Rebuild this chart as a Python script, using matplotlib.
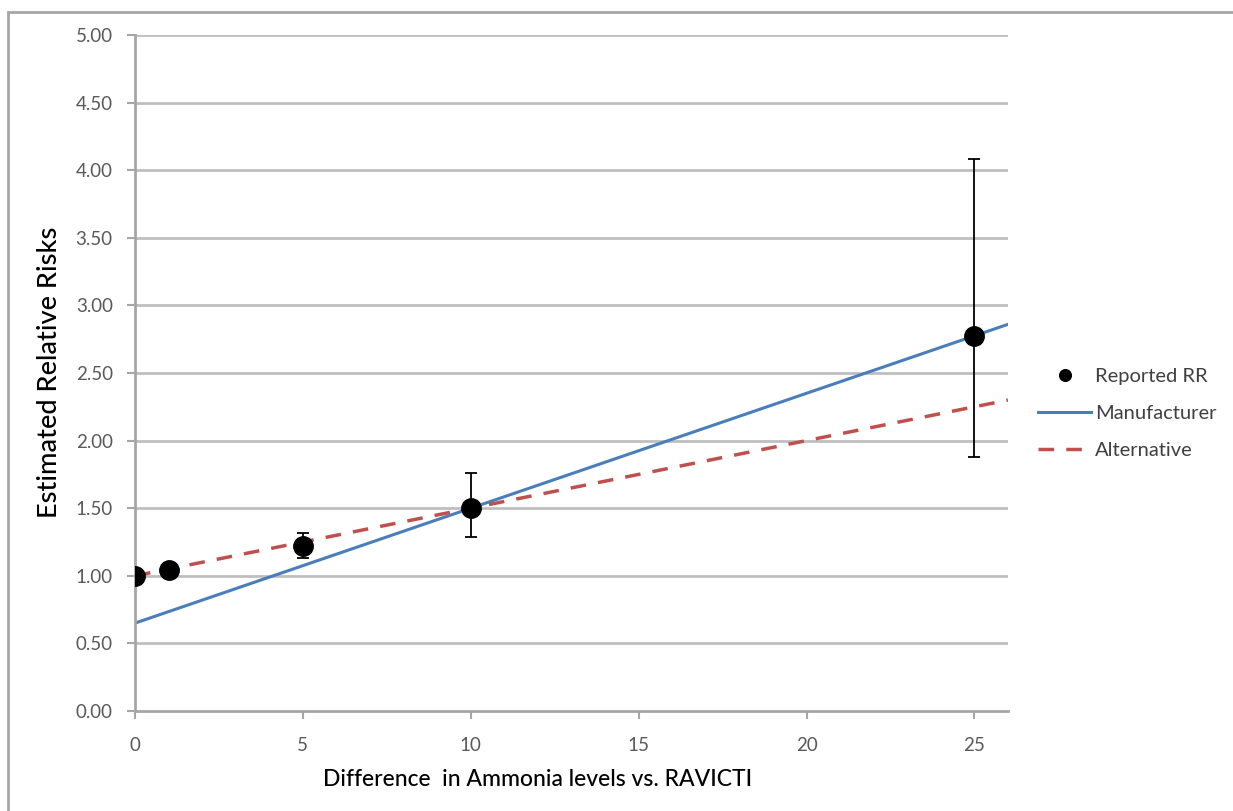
import matplotlib
matplotlib.use("Agg")
import matplotlib.pyplot as plt
from matplotlib.patches import Rectangle

# Data
rr_x = [0, 1, 5, 10, 25]
rr_y = [1.00, 1.04, 1.22, 1.50, 2.77]
rr_lo = [1.00, 1.04, 1.13, 1.29, 1.88]
rr_hi = [1.00, 1.04, 1.32, 1.76, 4.08]

line_x = [0, 26]
manufacturer_y = [0.65, 2.86]
alternative_y = [1.00, 2.30]

xticks = [0, 5, 10, 15, 20, 25]
yticks = [0.0, 0.5, 1.0, 1.5, 2.0, 2.5, 3.0, 3.5, 4.0, 4.5, 5.0]

plt.rcParams['font.family'] = ['Lato', 'DejaVu Sans']

W, H = 1233, 811
fig = plt.figure(figsize=(W / 100, H / 100), dpi=100)
ax = fig.add_axes([135 / W, 1 - 711 / H, (1008 - 135) / W, (711 - 35) / H])

# outer chart border (cropped)
fig.patches.append(Rectangle((8 / W, -0.1), 1.2, 1 - 12 / H + 0.1, transform=fig.transFigure,
                             fill=False, edgecolor='#a6a6a6', linewidth=2.0))

grid_c = '#bfbfbf'
for y in yticks[1:]:
    ax.axhline(y, color=grid_c, linewidth=2.0, zorder=0)

ax.plot(line_x, manufacturer_y, color='#4a7ebb', linewidth=2.2, zorder=2, label='Manufacturer')
ax.plot(line_x, alternative_y, color='#c0504d', linewidth=2.5, linestyle=(0, (4.5, 3.5)),
        zorder=2, label='Alternative')

yerr = [[y - lo for y, lo in zip(rr_y, rr_lo)], [hi - y for y, hi in zip(rr_y, rr_hi)]]
ax.errorbar(rr_x, rr_y, yerr=yerr, fmt='none', ecolor='black', elinewidth=1.3,
            capsize=4, capthick=1.3, zorder=3)
ax.plot(rr_x, rr_y, 'o', color='black', markersize=14, zorder=4, linestyle='none',
        label='Reported RR')

ax.set_xlim(0, 26)
ax.set_ylim(0, 5)
ax.set_xticks(xticks)
ax.set_yticks(yticks)
ax.set_yticklabels([f"{v:.2f}" for v in yticks])

for s in ['top', 'right']:
    ax.spines[s].set_visible(False)
for s in ['left', 'bottom']:
    ax.spines[s].set_color('#a6a6a6')
    ax.spines[s].set_linewidth(2.0)
ax.spines['bottom'].set_zorder(1)

ax.tick_params(axis='both', direction='out', length=6, width=1.5, color='#a6a6a6',
               labelcolor='#595959', labelsize=13.5)
ax.tick_params(axis='y', pad=10)
ax.tick_params(axis='x', pad=13)

ax.set_xlabel('Difference  in Ammonia levels vs. RAVICTI', fontsize=16.5, color='black',
              va='center', ha='center', fontweight='medium')
ax.xaxis.set_label_coords((538 - 135) / 873, (711 - 779) / 676)
ax.set_ylabel('Estimated Relative Risks', fontsize=19.5, color='black',
              va='center', ha='center', fontweight='medium')
ax.yaxis.set_label_coords((50 - 135) / 873, (711 - 372) / 676)

handles, labels = ax.get_legend_handles_labels()
order = [2, 0, 1]
leg = ax.legend([handles[i] for i in order], [labels[i] for i in order],
                loc='center left', bbox_to_anchor=(1.014, 0.44), frameon=False,
                fontsize=14.5, handlelength=2.6, handletextpad=0.2, labelspacing=1.0,
                markerscale=0.6)
for t in leg.get_texts():
    t.set_color('#404040')

fig.savefig('out.png', dpi=100)
